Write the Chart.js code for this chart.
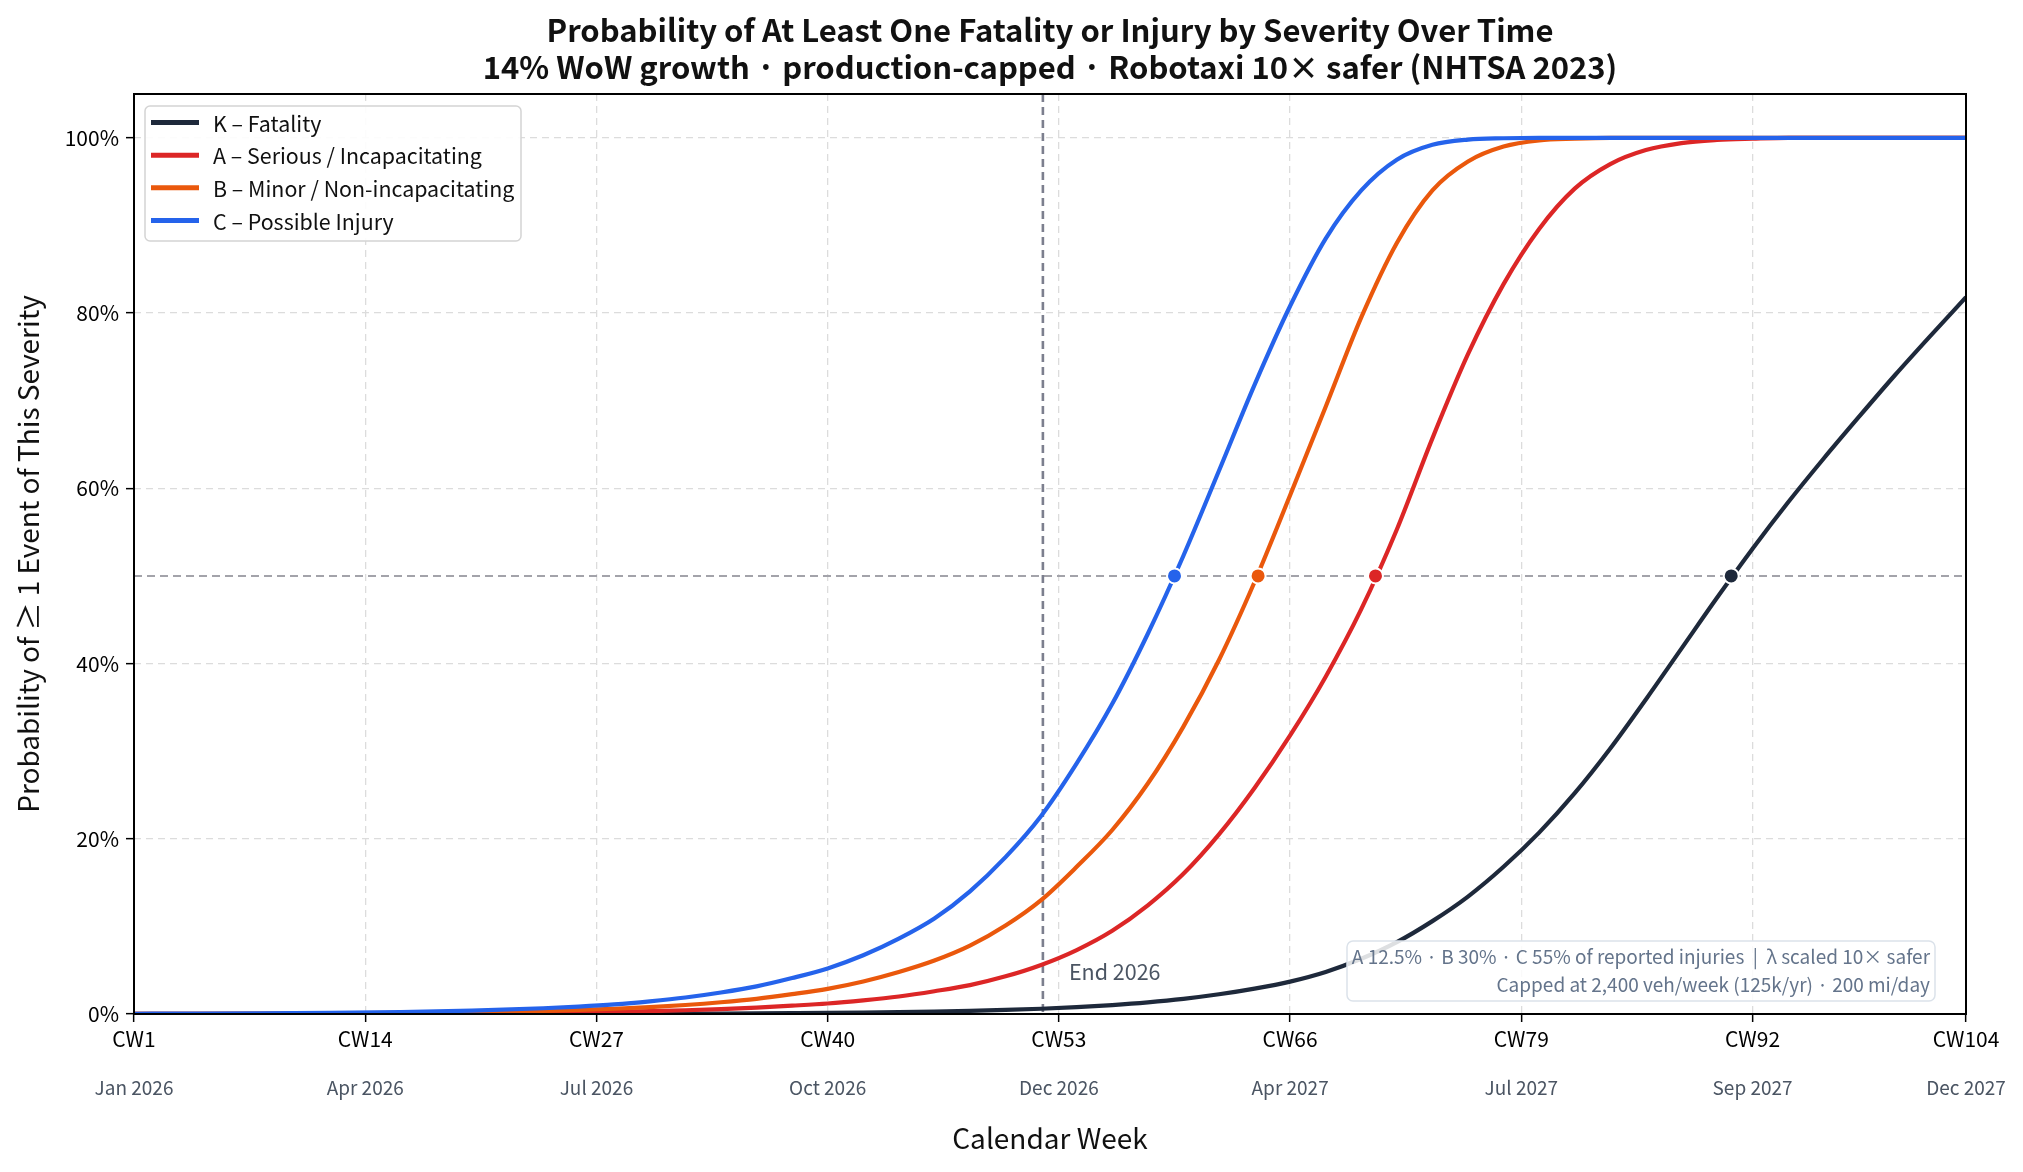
<!DOCTYPE html>
<html><head><meta charset="utf-8">
<script src="https://cdn.jsdelivr.net/npm/chart.js@4.4.0/dist/chart.umd.min.js"></script>
<style>html,body{margin:0;padding:0;background:#fff;}canvas{display:block}</style>
</head><body>
<canvas id="c" width="2023" height="1172"></canvas>
<script>
const FONT = '"Noto Sans CJK JP","Noto Sans",sans-serif';
const titleLines = ['Probability of At Least One Fatality or Injury by Severity Over Time',
  '14% WoW growth · production-capped · Robotaxi 10× safer (NHTSA 2023)'];
const xTitle = 'Calendar Week';
const yTitle = 'Probability of ≥ 1 Event of This Severity';
const seriesNames = ['K – Fatality','A – Serious / Incapacitating','B – Minor / Non-incapacitating','C – Possible Injury'];
const seriesColors = ['#1e293b','#dc2626','#ea580c','#2563eb'];

const weeks = [1,4,8,12,16,20,24,26,28,30,32,34,36,38,40,42,44,46,48,50,
  52,54,56,58,60,62,64,66,68,70,72,74,76,78,80,82,84,86,88,90,92,94,96,98,100,102,104];
const fatality = [0.001,0.001,0.002,0.003,0.005,0.009,0.015,0.02,0.026,0.034,0.045,0.058,0.075,0.098,0.125,0.163,0.21,0.27,0.35,0.46,
  0.6,0.78,1.02,1.33,1.73,2.25,2.9,3.7,4.8,6.3,8.2,10.6,13.4,16.8,20.7,25.2,30.3,35.9,41.7,47.5,53.1,58.4,63.4,68.2,72.9,77.4,81.8];
const serious = [0.007,0.011,0.018,0.031,0.052,0.09,0.15,0.19,0.25,0.33,0.43,0.56,0.73,0.95,1.2,1.56,2.0,2.6,3.3,4.3,
  5.6,7.3,9.5,12.4,16.0,20.5,25.8,31.8,38.5,46.2,55.3,65.7,75.3,83.3,89.6,94.2,97.0,98.6,99.4,99.75,99.9,100,100,100,100,100,100];
const minor = [0.017,0.026,0.044,0.075,0.126,0.21,0.36,0.46,0.6,0.79,1.03,1.34,1.73,2.26,2.87,3.71,4.79,6.1,7.8,10.1,
  13.0,16.8,21.0,26.3,32.8,40.4,49.3,59.2,69.3,79.5,88.0,94.0,97.3,99.0,99.7,99.9,100,100,100,100,100,100,100,100,100,100,100];
const possible = [0.03,0.048,0.08,0.137,0.23,0.39,0.655,0.85,1.1,1.45,1.88,2.45,3.15,4.1,5.2,6.7,8.6,10.9,14.0,17.9,
  22.6,28.6,35.4,43.4,52.3,62.0,71.8,80.8,88.5,94.0,97.5,99.2,99.8,99.95,100,100,100,100,100,100,100,100,100,100,100,100,100];
const seriesValues = [fatality, serious, minor, possible];
const halfWeeks = [90.8, 70.8, 64.2, 59.5];
const halfLevel = 50;

const tickWeeks = [1,14,27,40,53,66,79,92,104];
const tickLabels = ['CW1','CW14','CW27','CW40','CW53','CW66','CW79','CW92','CW104'];
const monthLabels = ['Jan 2026','Apr 2026','Jul 2026','Oct 2026','Dec 2026','Apr 2027','Jul 2027','Sep 2027','Dec 2027'];
const yTicks = [0,20,40,60,80,100];
const endWeek = 52.1;
const endLabel = 'End 2026';
const noteLines = ['A 12.5% · B 30% · C 55% of reported injuries  |  λ scaled 10× safer',
  'Capped at 2,400 veh/week (125k/yr) · 200 mi/day'];

const datasets = seriesValues.map((vals, i) => ({
  label: seriesNames[i],
  data: weeks.map((w, j) => ({x: w, y: vals[j]})),
  borderColor: seriesColors[i],
  backgroundColor: seriesColors[i],
  borderWidth: 4.2,
  pointRadius: 0,
  cubicInterpolationMode: 'monotone',
  fill: false,
  order: 10 - i
}));
datasets.push({
  label: 'half',
  data: halfWeeks.map(w => ({x: w, y: halfLevel})),
  showLine: false,
  pointRadius: 7.5,
  pointBackgroundColor: seriesColors,
  pointBorderColor: '#ffffff',
  pointBorderWidth: 2,
  order: 0
});

function rrect(ctx, x, y, w, h, r) {
  ctx.beginPath();
  ctx.moveTo(x + r, y);
  ctx.arcTo(x + w, y, x + w, y + h, r);
  ctx.arcTo(x + w, y + h, x, y + h, r);
  ctx.arcTo(x, y + h, x, y, r);
  ctx.arcTo(x, y, x + w, y, r);
  ctx.closePath();
}

const decor = {
  id: 'decor',
  beforeDatasetsDraw(chart) {
    const {ctx, chartArea: a, scales: {x, y}} = chart;
    ctx.save();
    ctx.setLineDash([8, 5]);
    ctx.lineWidth = 2;
    ctx.strokeStyle = '#a3a3aa';
    const yy = y.getPixelForValue(halfLevel);
    ctx.beginPath(); ctx.moveTo(a.left, yy); ctx.lineTo(a.right, yy); ctx.stroke();
    ctx.strokeStyle = '#7c7f8e';
    ctx.lineWidth = 2.6;
    const xx = x.getPixelForValue(endWeek);
    ctx.beginPath(); ctx.moveTo(xx, a.top); ctx.lineTo(xx, a.bottom); ctx.stroke();
    ctx.restore();
  },
  afterDatasetsDraw(chart) {
    const {ctx, chartArea: a, scales: {x, y}} = chart;
    ctx.save();
    // End label
    ctx.fillStyle = '#4b5563';
    ctx.font = '21.5px ' + FONT;
    ctx.textAlign = 'left'; ctx.textBaseline = 'middle';
    ctx.fillText(endLabel, x.getPixelForValue(endWeek) + 26, 972);
    // note box
    ctx.font = '19px ' + FONT;
    rrect(ctx, 1347, 941, 588, 60, 6);
    ctx.fillStyle = 'rgba(255,255,255,0.85)'; ctx.fill();
    ctx.strokeStyle = '#dbe2ea'; ctx.lineWidth = 1.5; ctx.stroke();
    ctx.fillStyle = '#64748b'; ctx.textAlign = 'right';
    ctx.fillText(noteLines[0], 1930, 957);
    ctx.fillText(noteLines[1], 1930, 985);
    // legend
    rrect(ctx, 145, 106, 376, 135, 5);
    ctx.fillStyle = 'rgba(255,255,255,0.9)'; ctx.fill();
    ctx.strokeStyle = '#d4d4d4'; ctx.lineWidth = 1.5; ctx.stroke();
    ctx.font = '21.4px ' + FONT; ctx.textAlign = 'left';
    seriesNames.forEach((n, i) => {
      const ly = 122.6 + i * 32.6;
      ctx.strokeStyle = seriesColors[i]; ctx.lineWidth = 5;
      ctx.beginPath(); ctx.moveTo(151, ly); ctx.lineTo(199, ly); ctx.stroke();
      ctx.fillStyle = '#111'; ctx.fillText(n, 213, ly + 1);
    });
    ctx.restore();
  },
  afterDraw(chart) {
    const {ctx, chartArea: a, scales: {x}} = chart;
    ctx.save();
    // frame
    ctx.strokeStyle = '#000'; ctx.lineWidth = 2;
    ctx.strokeRect(a.left, a.top, a.right - a.left, a.bottom - a.top);
    // title
    ctx.fillStyle = '#111';
    ctx.font = 'bold 31px ' + FONT;
    ctx.textAlign = 'center'; ctx.textBaseline = 'middle';
    const cx = (a.left + a.right) / 2;
    ctx.fillText(titleLines[0], cx, 30);
    ctx.fillText(titleLines[1], cx, 67);
    // x title
    ctx.font = '28px ' + FONT;
    ctx.fillText(xTitle, cx, 1138);
    // y title
    ctx.save();
    ctx.translate(28, (a.top + a.bottom) / 2);
    ctx.rotate(-Math.PI / 2);
    ctx.fillText(yTitle, 0, 0);
    ctx.restore();
    // month labels
    ctx.font = '19px ' + FONT; ctx.fillStyle = '#4b5563';
    tickWeeks.forEach((w, i) => ctx.fillText(monthLabels[i], x.getPixelForValue(w), 1088));
    ctx.restore();
  }
};

new Chart(document.getElementById('c'), {
  type: 'line',
  data: {datasets},
  options: {
    responsive: false, animation: false, devicePixelRatio: 1,
    layout: {padding: {top: 94, right: 57, left: 0, bottom: 0}},
    plugins: {legend: {display: false}, tooltip: {enabled: false}, title: {display: false}},
    scales: {
      x: {
        type: 'linear', min: 1, max: 104,
        afterBuildTicks: s => { s.ticks = tickWeeks.map(v => ({value: v})); },
        afterFit: s => { s.height = 158; },
        ticks: {callback: v => tickLabels[tickWeeks.indexOf(v)], color: '#000', font: {family: FONT, size: 21}, padding: 4, maxRotation: 0, autoSkip: false},
        grid: {color: '#dcdcdc', lineWidth: 1.3, tickColor: '#000', tickLength: 8, tickWidth: 1.5, tickBorderDash: []},
        border: {display: false, dash: [7, 5]}
      },
      y: {
        type: 'linear', min: 0, max: 105,
        afterBuildTicks: s => { s.ticks = yTicks.map(v => ({value: v})); },
        afterFit: s => { s.width = 134; },
        ticks: {callback: v => v + '%', color: '#000', font: {family: FONT, size: 21}, padding: 7},
        grid: {color: '#dcdcdc', lineWidth: 1.3, tickColor: '#000', tickLength: 8, tickWidth: 1.5, tickBorderDash: []},
        border: {display: false, dash: [7, 5]}
      }
    }
  },
  plugins: [decor]
});
</script>
</body></html>
